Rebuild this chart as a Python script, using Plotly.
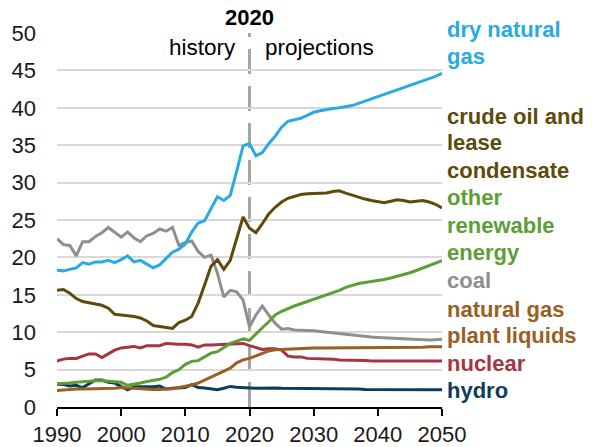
import plotly.graph_objects as go

years = list(range(1990, 2051))

dry_natural_gas = [
    18.3, 18.2, 18.4, 18.6, 19.3, 19.1, 19.4, 19.4, 19.6, 19.3,
    19.7, 20.2, 19.4, 19.6, 19.1, 18.6, 19.0, 19.8, 20.7, 21.1,
    21.8, 23.4, 24.6, 24.9, 26.6, 28.1, 27.6, 28.3, 31.5, 34.9,
    35.2, 33.6, 34.0, 35.2, 36.2, 37.4, 38.2, 38.4, 38.6, 39.0,
    39.4, 39.6, 39.8, 39.9, 40.0, 40.1, 40.3, 40.6, 40.9, 41.2,
    41.5, 41.7, 42.0, 42.4, 42.7, 43.0, 43.3, 43.6, 43.9, 44.2,
    44.6,
]
crude_oil = [
    15.6, 15.7, 15.2, 14.5, 14.1, 13.9, 13.7, 13.6, 13.2, 12.4,
    12.3, 12.2, 12.1, 11.9, 11.5, 10.9, 10.8, 10.7, 10.5, 11.3,
    11.6, 12.1, 13.9, 16.3, 18.8, 19.7, 18.4, 19.6, 22.6, 25.4,
    23.9, 23.3, 24.5, 25.8, 26.7, 27.4, 27.9, 28.2, 28.4, 28.5,
    28.5, 28.6, 28.6, 28.8, 28.9, 28.6, 28.3, 28.0, 27.8, 27.6,
    27.4, 27.3, 27.5, 27.7, 27.6, 27.4, 27.5, 27.6, 27.4, 27.1,
    26.6,
]
other_renewable = [
    3.1, 3.2, 3.2, 3.3, 3.4, 3.4, 3.5, 3.5, 3.4, 3.4,
    3.3, 2.9, 3.0, 3.2, 3.4, 3.5, 3.7, 4.0, 4.6, 5.0,
    5.7, 6.1, 6.2, 6.7, 7.2, 7.4, 7.9, 8.5, 8.8, 9.1,
    8.9, 9.8, 10.6, 11.4, 12.3, 12.8, 13.2, 13.5, 13.8, 14.1,
    14.4, 14.7, 15.0, 15.2, 15.6, 16.0, 16.3, 16.5, 16.65, 16.75,
    16.9, 17.05, 17.25, 17.45, 17.65, 17.95, 18.25, 18.6, 18.9, 19.2,
    19.55,
]
coal = [
    22.5, 21.7, 21.6, 20.2, 22.1, 22.1, 22.8, 23.3, 24.0, 23.3,
    22.7, 23.4, 22.6, 22.1, 22.9, 23.2, 23.8, 23.5, 24.0, 21.6,
    22.0, 22.2, 20.8, 20.0, 20.3, 17.9, 14.7, 15.6, 15.4, 14.3,
    10.7, 12.3, 13.5, 12.3, 11.2, 10.4, 10.5, 10.3, 10.3, 10.2,
    10.2, 10.1, 10.0, 9.9, 9.8, 9.7, 9.65, 9.55, 9.4, 9.35,
    9.3, 9.25, 9.2, 9.15, 9.1, 9.0, 9.0, 8.95, 8.95, 9.0,
    9.05,
]
ngpl = [
    2.2, 2.3, 2.35, 2.4, 2.4, 2.4, 2.5, 2.5, 2.45, 2.5,
    2.6, 2.55, 2.5, 2.4, 2.4, 2.35, 2.35, 2.4, 2.45, 2.6,
    2.75, 2.95, 3.2, 3.6, 4.1, 4.5, 4.8, 5.2, 5.9, 6.3,
    6.5, 6.8, 7.1, 7.5, 7.65, 7.7, 7.75, 7.8, 7.8, 7.85,
    7.9, 7.9, 7.9, 7.9, 7.9, 7.9, 7.9, 7.9, 7.95, 7.95,
    7.95, 7.95, 7.95, 8.0, 8.0, 8.0, 8.0, 8.0, 8.05, 8.05,
    8.05,
]
nuclear = [
    6.15, 6.4, 6.5, 6.5, 6.8, 7.1, 7.1, 6.6, 7.1, 7.6,
    7.9, 8.0, 8.1, 7.9, 8.2, 8.2, 8.2, 8.5, 8.4, 8.4,
    8.4, 8.3, 8.0, 8.3, 8.3, 8.35, 8.4, 8.4, 8.45, 8.5,
    8.2, 7.9, 7.7, 7.8, 7.8, 7.6, 6.8, 6.7, 6.7, 6.5,
    6.5, 6.5, 6.5, 6.4, 6.3, 6.3, 6.25, 6.2, 6.2, 6.15,
    6.15, 6.15, 6.15, 6.15, 6.15, 6.15, 6.15, 6.15, 6.15, 6.15,
    6.15,
]
hydro = [
    3.05, 3.0, 2.8, 2.9, 2.6, 3.1, 3.6, 3.6, 3.3, 3.2,
    2.8, 2.3, 2.7, 2.7, 2.6, 2.7, 2.8, 2.4, 2.5, 2.6,
    2.6, 3.0, 2.6, 2.55, 2.45, 2.3, 2.5, 2.75, 2.65, 2.55,
    2.55, 2.5, 2.55, 2.6, 2.55, 2.5, 2.5, 2.5, 2.45, 2.45,
    2.45, 2.45, 2.4, 2.4, 2.4, 2.4, 2.4, 2.4, 2.35, 2.35,
    2.35, 2.35, 2.35, 2.35, 2.3, 2.3, 2.3, 2.3, 2.3, 2.3,
    2.3,
]

# name, values, colour, label lines with their vertical positions (plot fraction)
series = [
    ("coal", coal, "#8f8f8f", [("coal", 0.339)]),
    ("hydro", hydro, "#0c3d5a", [("hydro", 0.045)]),
    ("nuclear", nuclear, "#a83343", [("nuclear", 0.115)]),
    ("ngpl", ngpl, "#9b5f24", [("natural gas", 0.262), ("plant liquids", 0.192)]),
    ("other renewable", other_renewable, "#5d9e35",
     [("other", 0.561), ("renewable", 0.486), ("energy", 0.414)]),
    ("crude oil", crude_oil, "#5e4a0b",
     [("crude oil and", 0.777), ("lease", 0.707), ("condensate", 0.633)]),
    ("dry natural gas", dry_natural_gas, "#29aae1",
     [("dry natural", 1.009), ("gas", 0.937)]),
]

FONT = "Liberation Sans, Arial, sans-serif"

fig = go.Figure()
for name, vals, color, lines in series:
    fig.add_trace(go.Scatter(x=years, y=vals, mode="lines", name=name,
                             line=dict(color=color, width=3), hoverinfo="skip"))
    for text, ly in lines:
        fig.add_annotation(x=1, xref="paper", y=ly, yref="paper", xshift=3,
                           text="<b>" + text + "</b>", showarrow=False,
                           xanchor="left", yanchor="middle",
                           font=dict(family=FONT, size=22, color=color))

# history / projections divider
fig.add_shape(type="line", x0=2020, x1=2020, y0=0, y1=50, xref="x", yref="y",
              line=dict(color="#a6a6a6", width=3, dash="25px,12px"), layer="below")
fig.add_annotation(x=2020, y=1, yref="paper", yshift=1, text="<b>2020</b>",
                   showarrow=False, yanchor="bottom",
                   font=dict(family=FONT, size=22, color="black"))
fig.add_annotation(x=2020, y=48.1, xshift=-12, text="history", showarrow=False,
                   xanchor="right", font=dict(family=FONT, size=22.5, color="black"))
fig.add_annotation(x=2020, y=48.1, xshift=13, text="projections", showarrow=False,
                   xanchor="left", font=dict(family=FONT, size=22.5, color="black"))

fig.update_layout(
    width=592, height=447,
    margin=dict(l=57, r=150, t=33, b=40),
    paper_bgcolor="white", plot_bgcolor="white",
    showlegend=False,
    font=dict(family=FONT, size=22, color="#1a1a1a"),
    xaxis=dict(range=[1990, 2050], tickvals=[1990, 2000, 2010, 2020, 2030, 2040, 2050],
               showgrid=False, showline=True, linecolor="black", linewidth=2,
               ticks="outside", ticklen=7, tickwidth=2, tickcolor="black",
               zeroline=False, automargin=False),
    yaxis=dict(range=[0, 50], dtick=5, showgrid=True, gridcolor="#d9d9d9", gridwidth=1.5,
               zeroline=False, showline=False, ticks="", ticklabelstandoff=20,
               automargin=False),
)

# drop the browser's default 8px body margin so the figure fills the window
fig.write_html("out.html", config={"displayModeBar": False},
               post_script="document.body.style.margin = '0px';")
